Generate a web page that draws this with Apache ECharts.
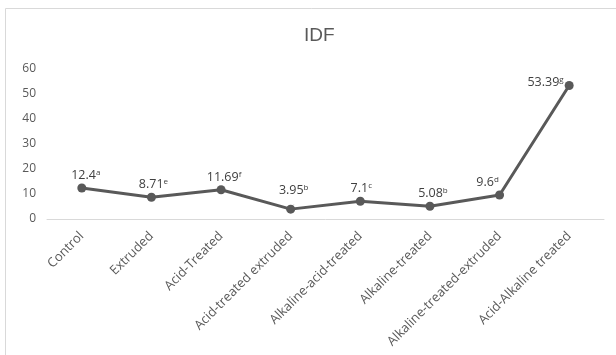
<!DOCTYPE html>
<html>
<head>
<meta charset="utf-8">
<script src="https://cdn.jsdelivr.net/npm/echarts@6/dist/echarts.min.js"></script>
<style>
  html, body { margin: 0; padding: 0; background: #fff; }
  #chart { width: 616px; height: 355px; }
</style>
</head>
<body>
<div id="chart"></div>
<script>
// IDF values per treatment, with significance letters
const categories = [
  'Control', 'Extruded', 'Acid-Treated', 'Acid-treated extruded',
  'Alkaline-acid-treated', 'Alkaline-treated', 'Alkaline-treated-extruded',
  'Acid-Alkaline treated'
];
const idfValues = [12.4, 8.71, 11.69, 3.95, 7.1, 5.08, 9.6, 53.39];
const sigLetters = ['a', 'e', 'f', 'b', 'c', 'b', 'd', 'g'];
const yTicks = [0, 10, 20, 30, 40, 50, 60];

// per-point label placement
const labelPlacement = [
  { position: 'top', offset: [4, 0] },
  { position: 'top', offset: [2, 0] },
  { position: 'top', offset: [3, 0] },
  { position: 'top', offset: [3, -6] },
  { position: 'top', offset: [1, 0] },
  { position: 'top', offset: [3, 0] },
  { position: 'top', offset: [-12, 0] },
  { position: 'left', offset: [0, -3] }
];

const FONT = 'Liberation Sans';
const AXIS_FONT = 'Open Sans';
const chart = echarts.init(document.getElementById('chart'), null, { renderer: 'canvas' });

const seriesData = idfValues.map((v, i) => ({
  value: v,
  label: {
    position: labelPlacement[i].position,
    offset: labelPlacement[i].offset
  },
  labelLine: i === 3
    ? { show: true, lineStyle: { color: '#a6a6a6', width: 1 } }
    : { show: false }
}));

chart.setOption({
  animation: false,
  textStyle: { fontFamily: FONT },
  title: {
    text: 'IDF',
    left: 299,
    top: 21,
    textStyle: { fontFamily: FONT, fontSize: 19, fontWeight: 'normal', color: '#595959' }
  },
  graphic: [{
    type: 'rect',
    shape: { x: 5.5, y: 8.5, width: 700, height: 400 },
    style: { fill: 'none', stroke: '#d9d9d9', lineWidth: 1 },
    z: -1
  }],
  grid: { left: 47, right: 12, top: 69, bottom: 136 },
  xAxis: {
    type: 'category',
    data: categories,
    boundaryGap: true,
    axisLine: { show: true, lineStyle: { color: '#d9d9d9', width: 1 } },
    axisTick: { show: false },
    axisLabel: {
      rotate: 45,
      interval: 0,
      margin: 15,
      color: '#595959',
      fontFamily: AXIS_FONT,
      fontSize: 13
    }
  },
  yAxis: {
    type: 'value',
    min: yTicks[0],
    max: yTicks[yTicks.length - 1],
    interval: 10,
    axisLine: { show: false },
    axisTick: { show: false },
    splitLine: { show: false },
    axisLabel: { color: '#595959', fontFamily: AXIS_FONT, fontSize: 12, margin: 11 }
  },
  series: [{
    type: 'line',
    data: seriesData,
    symbol: 'circle',
    symbolSize: 9,
    lineStyle: { color: '#595959', width: 3 },
    itemStyle: { color: '#595959' },
    label: {
      show: true,
      distance: 1,
      formatter: (p) => '{v|' + idfValues[p.dataIndex] + '}{s|' + sigLetters[p.dataIndex] + '}',
      rich: {
        v: { fontFamily: AXIS_FONT, fontSize: 12.5, color: '#404040', lineHeight: 14 },
        s: { fontFamily: AXIS_FONT, fontSize: 8, color: '#404040', verticalAlign: 'top', lineHeight: 14, padding: [0, 0, 6, 0] }
      }
    }
  }]
});
</script>
</body>
</html>
